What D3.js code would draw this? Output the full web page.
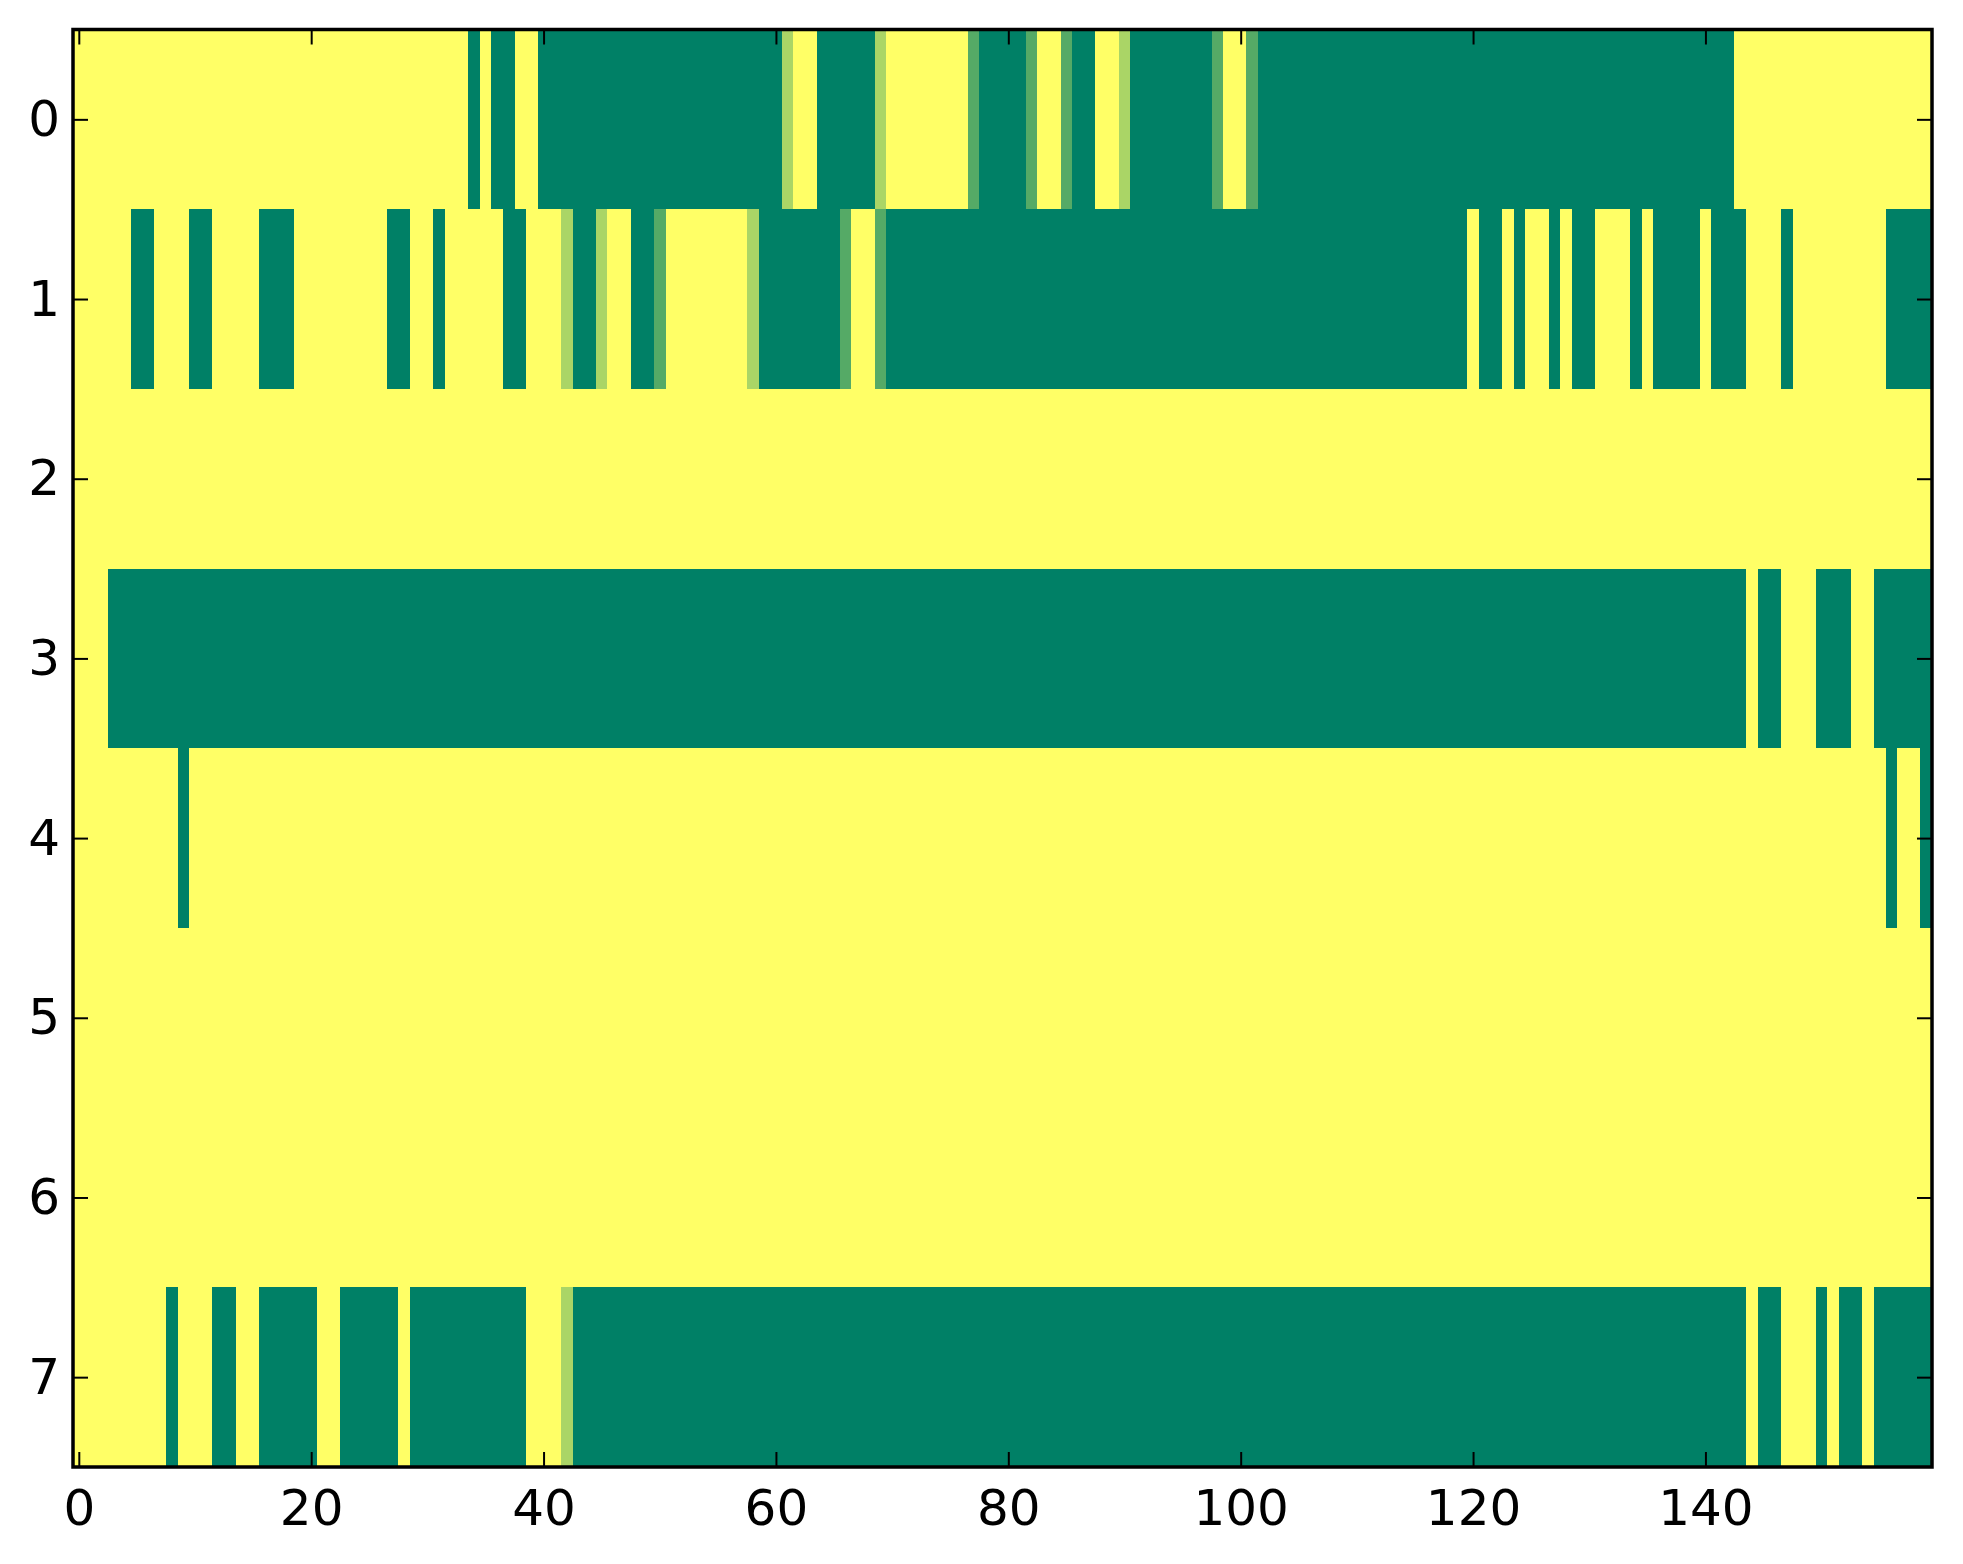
<!DOCTYPE html>
<html>
<head>
<meta charset="utf-8">
<script src="https://cdnjs.cloudflare.com/ajax/libs/d3/7.8.5/d3.min.js"></script>
<style>
  html, body { margin: 0; padding: 0; background: #fff; }
  svg text { font-family: "DejaVu Sans", sans-serif; }
</style>
</head>
<body>
<svg width="1963" height="1564"></svg>
<script>
"use strict";

// each row: one digit per column, value = digit / 3 (0 yellow ... 3 green)
var row0 = ["0000000000", "0000000000", "0000000000", "0000303300", "3333333333",
            "3333333333", "3100333331", "0000000233", "3320023300", "1333333320",
            "0233333333", "3333333333", "3333333333", "3333333333", "3330000000",
            "0000000000"];
var row1 = ["0000033000", "3300003330", "0000000330", "0300000330", "0013310033",
            "2000000013", "3333332002", "3333333333", "3333333333", "3333333333",
            "3333333333", "3333333333", "0330300303", "3000303333", "0333000300",
            "0000003333"];
var row2 = ["0000000000", "0000000000", "0000000000", "0000000000", "0000000000",
            "0000000000", "0000000000", "0000000000", "0000000000", "0000000000",
            "0000000000", "0000000000", "0000000000", "0000000000", "0000000000",
            "0000000000"];
var row3 = ["0003333333", "3333333333", "3333333333", "3333333333", "3333333333",
            "3333333333", "3333333333", "3333333333", "3333333333", "3333333333",
            "3333333333", "3333333333", "3333333333", "3333333333", "3333033000",
            "3330033333"];
var row4 = ["0000000003", "0000000000", "0000000000", "0000000000", "0000000000",
            "0000000000", "0000000000", "0000000000", "0000000000", "0000000000",
            "0000000000", "0000000000", "0000000000", "0000000000", "0000000000",
            "0000003003"];
var row5 = row2.slice();
var row6 = row2.slice();
var row7 = ["0000000030", "0033003333", "3003333303", "3333333330", "0013333333",
            "3333333333", "3333333333", "3333333333", "3333333333", "3333333333",
            "3333333333", "3333333333", "3333333333", "3333333333", "3333033000",
            "3033033333"];

var rows = [row0, row1, row2, row3, row4, row5, row6, row7];
var xTicks = [0, 20, 40, 60, 80, 100, 120, 140];
var yTicks = [0, 1, 2, 3, 4, 5, 6, 7];

var cells = [];
rows.forEach(function (r, ri) {
    r.join("").split("").forEach(function (ch, ci) {
        cells.push({ row: ri, col: ci, value: +ch / 3 });
    });
});

var plotLeft = 73, plotRight = 1932, plotTop = 29.5, plotBottom = 1467;
var nCols = rows[0].join("").length;

var x = d3.scaleLinear().domain([-0.5, nCols - 0.5]).range([plotLeft, plotRight]);
var y = d3.scaleLinear().domain([-0.5, rows.length - 0.5]).range([plotTop, plotBottom]);
var color = d3.scaleLinear().domain([0, 1]).range(["#ffff66", "#008066"]);

var svg = d3.select("svg");

svg.append("rect")
    .attr("width", 1963)
    .attr("height", 1564)
    .attr("fill", "#fff");

// Cells
svg.append("g")
    .attr("shape-rendering", "crispEdges")
    .selectAll("rect.cell")
    .data(cells)
    .enter()
    .append("rect")
    .classed("cell", true)
    .attr("x", function (d) { return x(d.col - 0.5); })
    .attr("y", function (d) { return y(d.row - 0.5); })
    .attr("width", function (d) { return x(d.col + 0.5) - x(d.col - 0.5) + 0.4; })
    .attr("height", function (d) { return y(d.row + 0.5) - y(d.row - 0.5) + 0.4; })
    .attr("fill", function (d) { return color(d.value); });

// Axes, ticks pointing inward
function styleAxis(g, showText) {
    g.select(".domain").remove();
    g.selectAll(".tick line").attr("stroke", "#000").attr("stroke-width", 2);
    g.selectAll(".tick text")
        .attr("fill", "#000")
        .style("font-size", "50px")
        .style("display", showText ? null : "none");
}

svg.append("g")
    .attr("transform", "translate(0," + plotBottom + ")")
    .call(d3.axisBottom(x).tickValues(xTicks).tickSize(-15).tickPadding(22).tickFormat(d3.format("d")))
    .call(styleAxis, true);

svg.append("g")
    .attr("transform", "translate(0," + plotTop + ")")
    .call(d3.axisTop(x).tickValues(xTicks).tickSize(-15))
    .call(styleAxis, false);

svg.append("g")
    .attr("transform", "translate(" + plotLeft + ",0)")
    .call(d3.axisLeft(y).tickValues(yTicks).tickSize(-15).tickPadding(13).tickFormat(d3.format("d")))
    .call(styleAxis, true);

svg.append("g")
    .attr("transform", "translate(" + plotRight + ",0)")
    .call(d3.axisRight(y).tickValues(yTicks).tickSize(-15))
    .call(styleAxis, false);

// Frame
svg.append("rect")
    .attr("x", plotLeft)
    .attr("y", plotTop)
    .attr("width", plotRight - plotLeft)
    .attr("height", plotBottom - plotTop)
    .attr("fill", "none")
    .attr("stroke", "#000")
    .attr("stroke-width", 3.5);
</script>
</body>
</html>
